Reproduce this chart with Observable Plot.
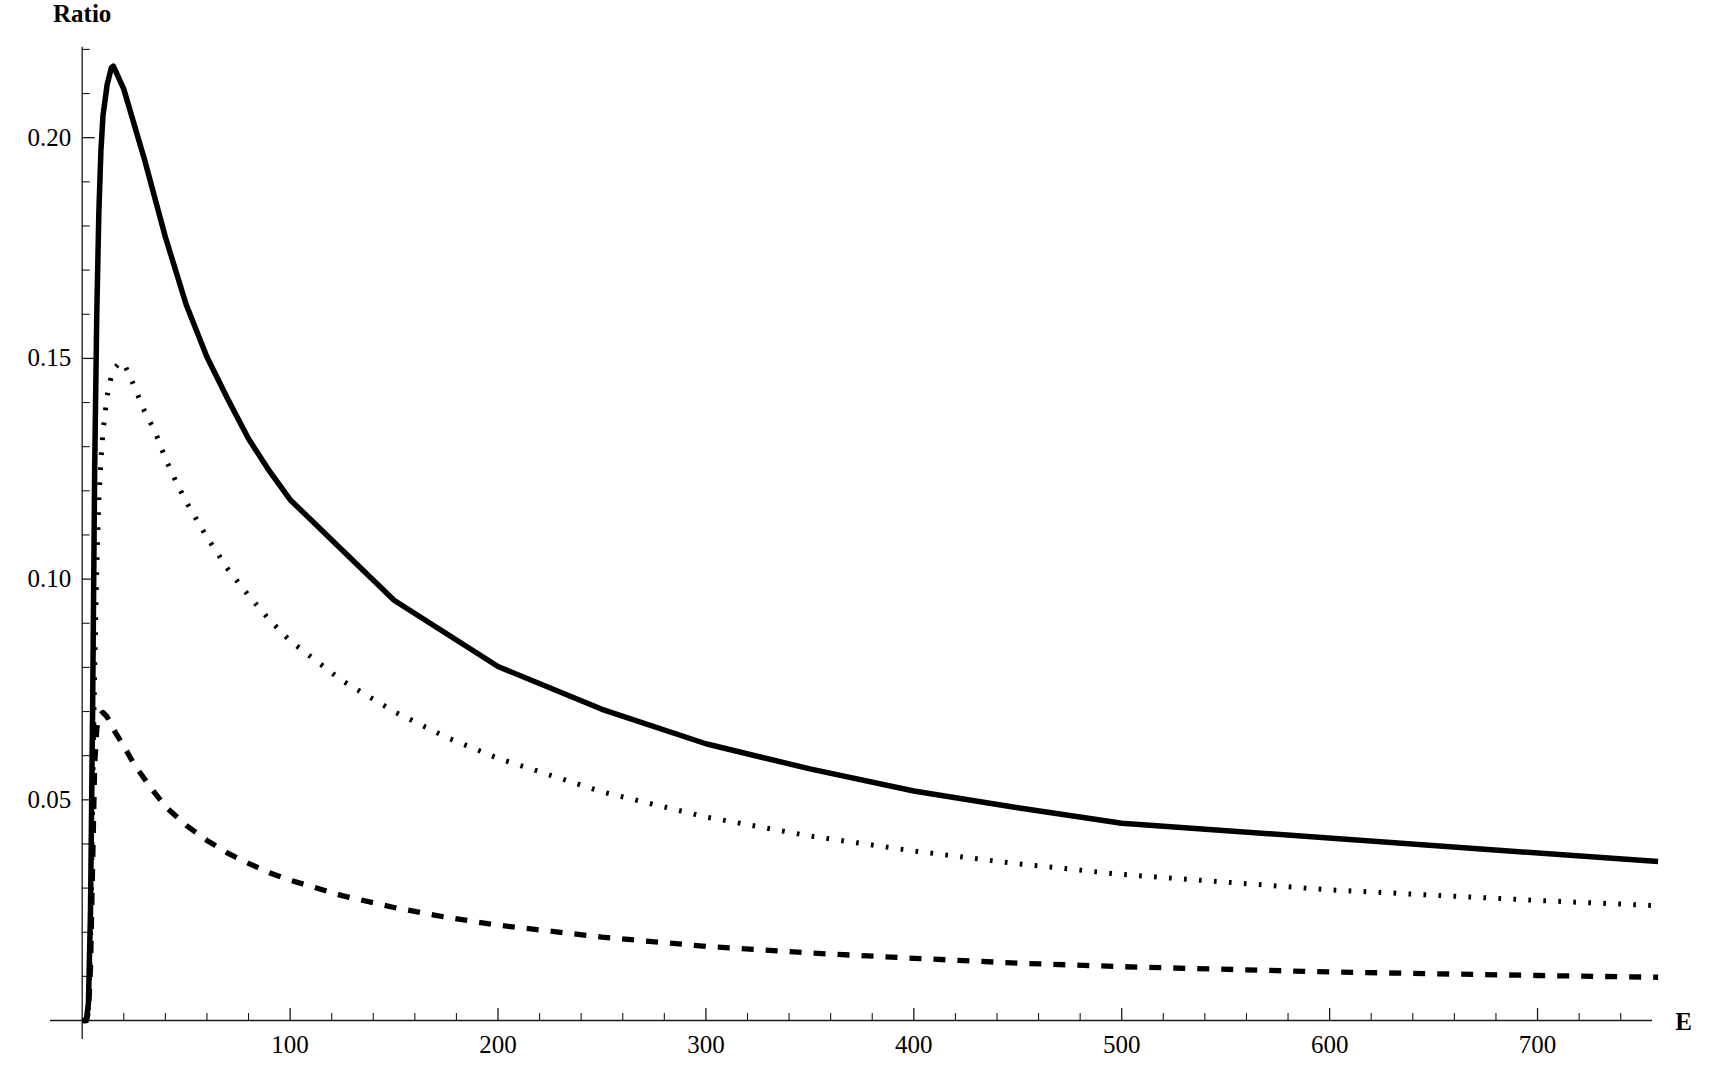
<!DOCTYPE html>
<html>
<head>
<meta charset="utf-8">
<script src="https://cdn.jsdelivr.net/npm/d3@7"></script>
<script src="https://cdn.jsdelivr.net/npm/@observablehq/plot@0.6"></script>
<style>
  html, body { margin: 0; padding: 0; background: #fff; }
  #chart svg { display: block; }
</style>
</head>
<body>
<div id="chart"></div>
<script>
// ---- Data ----
const solidE     = [0, 2, 3, 4, 5, 6, 7, 8, 9, 10, 12, 14, 15, 20, 30, 40, 50, 60, 70, 80, 90, 100, 150, 200, 250, 300, 350, 400, 450, 500, 758];
const solidRatio = [0, 0, 0.004, 0.025, 0.07, 0.125, 0.16, 0.183, 0.197, 0.205, 0.212, 0.2158, 0.2162, 0.211, 0.195, 0.1775, 0.1622, 0.1503, 0.1408, 0.1318, 0.1245, 0.118, 0.0952, 0.0802, 0.0705, 0.0627, 0.057, 0.052, 0.0482, 0.0447, 0.036];

const dottedE     = [0, 2, 3, 4, 5, 6, 7, 8, 9, 10, 12, 14, 16, 18, 20, 25, 30, 35, 40, 45, 50, 60, 70, 80, 90, 100, 125, 150, 175, 200, 250, 300, 350, 400, 450, 500, 600, 700, 758];
const dottedRatio = [0, 0, 0.003, 0.018, 0.05, 0.08, 0.103, 0.118, 0.127, 0.1335, 0.1415, 0.146, 0.148, 0.149, 0.149, 0.1437, 0.138, 0.1335, 0.1273, 0.1222, 0.1175, 0.1095, 0.1023, 0.0963, 0.0908, 0.086, 0.077, 0.07, 0.0642, 0.0594, 0.0518, 0.0461, 0.0418, 0.0384, 0.0355, 0.0331, 0.0296, 0.0272, 0.026];

const dashedE     = [0, 2, 3, 4, 5, 6, 7, 8, 10, 12, 15, 20, 25, 30, 35, 40, 50, 60, 70, 80, 90, 100, 125, 150, 175, 200, 250, 300, 350, 400, 450, 500, 600, 700, 758];
const dashedRatio = [0, 0, 0.002, 0.012, 0.035, 0.058, 0.066, 0.069, 0.0698, 0.0688, 0.066, 0.0622, 0.058, 0.0547, 0.0515, 0.0485, 0.0442, 0.0408, 0.0379, 0.0356, 0.0335, 0.0318, 0.0283, 0.0256, 0.0234, 0.0216, 0.0189, 0.0168, 0.0153, 0.0141, 0.013, 0.0122, 0.011, 0.0102, 0.0098];

const xMajorTicks = [100, 200, 300, 400, 500, 600, 700];
const xMinorTicks = [20, 40, 60, 80, 120, 140, 160, 180, 220, 240, 260, 280, 320, 340, 360, 380, 420, 440, 460, 480, 520, 540, 560, 580, 620, 640, 660, 680, 720, 740];
const yMajorTicks = [0.05, 0.10, 0.15, 0.20];
const yMajorLabels = ["0.05", "0.10", "0.15", "0.20"];
const yMinorTicks = [0.01, 0.02, 0.03, 0.04, 0.06, 0.07, 0.08, 0.09, 0.11, 0.12, 0.13, 0.14, 0.16, 0.17, 0.18, 0.19, 0.21, 0.22];

const xLabel = "E";
const yLabel = "Ratio";

// ---- Layout ----
const W = 1731, H = 1075;
const mL = 50, mR = 79, mT = 46.7, mB = 36;
const xDom = [-15.25, 755.3];
const yDom = [-0.0043, 0.2205];
const pxPerX = (W - mL - mR) / (xDom[1] - xDom[0]);
const pxPerY = (H - mT - mB) / (yDom[1] - yDom[0]);
const tx = px => px / pxPerX;   // px -> x data units
const ty = px => px / pxPerY;   // px -> y data units

const toRows = (xs, ys) => xs.map((x, i) => ({E: x, R: ys[i]}));
const solid = toRows(solidE, solidRatio);
const dotted = toRows(dottedE, dottedRatio);
const dashed = toRows(dashedE, dashedRatio);

const axisColor = "#1a1a1a";
const font = "'Liberation Serif', 'Times New Roman', serif";

const chart = Plot.plot({
  width: W, height: H,
  marginLeft: mL, marginRight: mR, marginTop: mT, marginBottom: mB,
  x: {domain: xDom, axis: null},
  y: {domain: yDom, axis: null},
  style: {fontFamily: font, fontSize: "25px", background: "#fff", color: "#000"},
  marks: [
    // axes
    Plot.ruleY([0], {stroke: axisColor, strokeWidth: 1.3}),
    Plot.ruleX([0], {stroke: axisColor, strokeWidth: 1.3}),
    // x ticks (pointing up into the plot)
    Plot.ruleX(xMajorTicks, {x: d => d, y1: 0, y2: ty(12), stroke: axisColor, strokeWidth: 1.3}),
    Plot.ruleX(xMinorTicks, {x: d => d, y1: 0, y2: ty(7), stroke: axisColor, strokeWidth: 1.1}),
    // y ticks (pointing right into the plot)
    Plot.ruleY(yMajorTicks, {y: d => d, x1: 0, x2: tx(13), stroke: axisColor, strokeWidth: 1.3}),
    Plot.ruleY(yMinorTicks, {y: d => d, x1: 0, x2: tx(8), stroke: axisColor, strokeWidth: 1.1}),
    // tick labels
    Plot.text(xMajorTicks, {x: d => d, y: 0, text: d => String(d), dy: 24, textAnchor: "middle", lineAnchor: "middle", fill: "#000"}),
    Plot.text(yMajorTicks, {x: 0, y: d => d, text: (d, i) => yMajorLabels[i], dx: -11, textAnchor: "end", lineAnchor: "middle", fill: "#000"}),
    // axis labels
    Plot.text([yLabel], {x: 0, y: yDom[1], text: d => d, dy: -33, textAnchor: "middle", lineAnchor: "middle", fontWeight: "bold", fill: "#000"}),
    Plot.text([xLabel], {x: xDom[1], y: 0, text: d => d, dx: 31, dy: 1, textAnchor: "middle", lineAnchor: "middle", fontWeight: "bold", fill: "#000"}),
    // curves
    Plot.line(dashed, {x: "E", y: "R", stroke: "#000", strokeWidth: 5.3, strokeDasharray: "12,12", strokeLinecap: "butt", strokeLinejoin: "round"}),
    Plot.line(dotted, {x: "E", y: "R", stroke: "#000", strokeWidth: 5, strokeDasharray: "2.7,12.3", strokeLinecap: "butt", strokeLinejoin: "round"}),
    Plot.line(solid, {x: "E", y: "R", stroke: "#000", strokeWidth: 5.5, strokeLinecap: "butt", strokeLinejoin: "round"})
  ]
});
document.getElementById("chart").appendChild(chart);
</script>
</body>
</html>
